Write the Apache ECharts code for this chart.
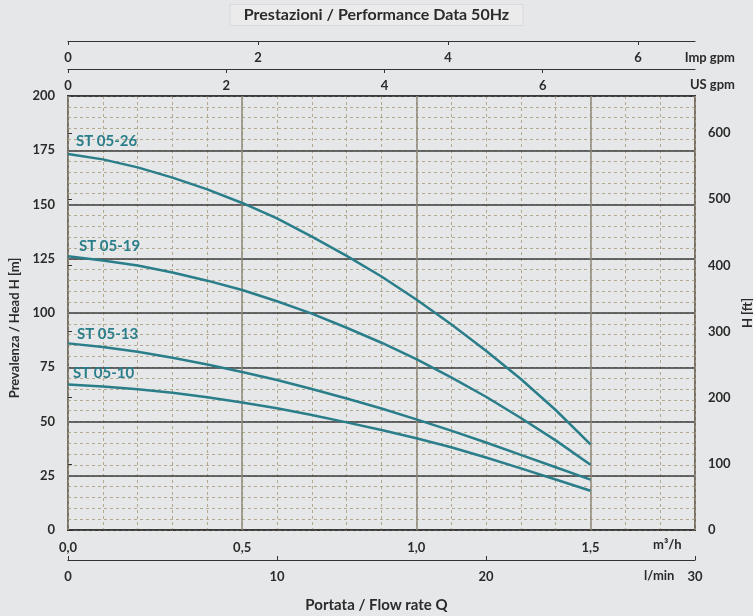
<!DOCTYPE html>
<html>
<head>
<meta charset="utf-8">
<script src="https://cdn.jsdelivr.net/npm/echarts@6/dist/echarts.min.js"></script>
<style>
  html, body { margin: 0; padding: 0; background: #e6e7e9; }
  #chart { width: 753px; height: 616px; }
</style>
</head>
<body>
<div id="chart"></div>
<script>
// Flow rate points (m³/h) and head (m) for each pump model
const flowM3h = [0, 0.1, 0.2, 0.3, 0.4, 0.5, 0.6, 0.7, 0.8, 0.9, 1.0, 1.1, 1.2, 1.3, 1.4, 1.5];
const st0526 = [173.3, 170.8, 167.1, 162.4, 157.0, 150.7, 143.6, 135.2, 126.3, 116.8, 106.2, 94.8, 82.6, 69.6, 55.3, 39.5];
const st0519 = [126.1, 124.2, 121.9, 118.7, 114.9, 110.6, 105.4, 99.7, 93.2, 86.3, 78.7, 70.3, 61.4, 51.6, 41.3, 30.1];
const st0513 = [86.0, 84.3, 82.1, 79.4, 76.3, 72.8, 69.1, 65.0, 60.6, 56.0, 51.0, 45.8, 40.3, 34.6, 28.9, 23.2];
const st0510 = [67.0, 66.1, 64.9, 63.3, 61.2, 58.8, 56.1, 53.0, 49.6, 46.1, 42.3, 38.1, 33.4, 28.4, 23.3, 18.1];
const modelNames = ['ST 05-26', 'ST 05-19', 'ST 05-13', 'ST 05-10'];

// Tick labels of every scale
const headTicks = [0, 25, 50, 75, 100, 125, 150, 175, 200];
const ftTicks = [0, 100, 200, 300, 400, 500, 600];
const m3hTicks = [0, 0.5, 1.0, 1.5];
const lminTicks = [0, 10, 20, 30];
const usGpmTicks = [0, 2, 4, 6];
const impGpmTicks = [0, 2, 4, 6];

// Scale ranges and unit conversions
const Q_MAX = 1.8;            // m³/h
const H_MAX = 200;            // m
const LMIN_PER_M3H = 1000 / 60;
const USGPM_PER_M3H = 4.402868;
const IMPGPM_PER_M3H = 3.666154;
const FT_PER_M = 3.28084;

const FONT = 'Lato, "Open Sans", sans-serif';
const TEAL = '#2a7e8a';
const TXT = '#2b2b2b';

const chart = echarts.init(document.getElementById('chart'), null, { renderer: 'canvas' });

const curves = [st0526, st0519, st0513, st0510];
const labelOffsets = [[3, -13], [6, -10], [4, -9], [0, -11]];

const series = curves.map((vals, i) => ({
  name: modelNames[i],
  type: 'line',
  xAxisIndex: 1,
  yAxisIndex: 1,
  data: flowM3h.map((q, k) => [q, vals[k]]),
  smooth: false,
  showSymbol: false,
  symbol: 'none',
  lineStyle: { color: TEAL, width: 2.5, join: 'round' },
  z: 5,
  markPoint: {
    symbol: 'circle',
    symbolSize: 0,
    silent: true,
    data: [{
      coord: [flowM3h[0], vals[0]],
      label: {
        show: true,
        position: 'right',
        distance: 5,
        offset: labelOffsets[i],
        formatter: modelNames[i],
        color: TEAL,
        fontFamily: FONT,
        fontWeight: 'bold',
        fontSize: 15
      }
    }]
  }
}));

const boldLabel = (extra) => Object.assign({
  color: TXT, fontFamily: FONT, fontWeight: 'bold', fontSize: 13
}, extra || {});

const option = {
  backgroundColor: '#e6e7e9',
  animation: false,
  title: {
    text: 'Prestazioni / Performance Data 50Hz',
    left: 'center',
    top: 4,
    padding: [3, 14, 3, 14],
    backgroundColor: '#ebebec',
    borderColor: '#d9d9db',
    borderWidth: 1,
    textStyle: { color: TXT, fontFamily: FONT, fontWeight: 'bold', fontSize: 16 }
  },
  grid: {
    left: 68, right: 58, top: 96, bottom: 86,
    outerBoundsMode: 'none',
    containLabel: false,
    show: true,
    backgroundColor: 'transparent',
    borderColor: '#333333',
    borderWidth: 2
  },
  xAxis: [
    { // minor vertical grid, every 0.1 m³/h
      type: 'value', min: 0, max: Q_MAX, interval: 0.1, position: 'bottom', z: 0,
      axisLine: { show: false }, axisTick: { show: false }, axisLabel: { show: false },
      splitLine: { show: true, lineStyle: { color: '#b3a98f', type: [3, 3], width: 1 } }
    },
    { // m³/h scale
      type: 'value', min: 0, max: Q_MAX, interval: 0.5, position: 'bottom', z: 1,
      axisLine: { show: false }, axisTick: { show: false },
      axisLabel: boldLabel({ margin: 11, customValues: m3hTicks,
        formatter: v => v.toFixed(1).replace('.', ',') }),
      splitLine: { show: true, lineStyle: { color: '#8f8977', width: 1.5 } }
    },
    { // l/min scale
      type: 'value', min: 0, max: Q_MAX * LMIN_PER_M3H, position: 'bottom', offset: 30, z: 1,
      axisLine: { show: true, onZero: false, lineStyle: { color: '#333', width: 1.2 } },
      axisTick: { show: true, inside: true, length: 4, customValues: lminTicks, lineStyle: { color: '#333' } },
      axisLabel: boldLabel({ margin: 10, customValues: lminTicks }),
      splitLine: { show: false }
    },
    { // US gpm scale
      type: 'value', min: 0, max: Q_MAX * USGPM_PER_M3H, position: 'top', offset: 27, z: 1,
      axisLine: { show: true, onZero: false, lineStyle: { color: '#333', width: 1.2 } },
      axisTick: { show: true, inside: true, length: 4, customValues: usGpmTicks, lineStyle: { color: '#333' } },
      axisLabel: boldLabel({ inside: true, margin: 10, customValues: usGpmTicks }),
      splitLine: { show: false }
    },
    { // Imp gpm scale
      type: 'value', min: 0, max: Q_MAX * IMPGPM_PER_M3H, position: 'top', offset: 55, z: 1,
      axisLine: { show: true, onZero: false, lineStyle: { color: '#333', width: 1.2 } },
      axisTick: { show: true, inside: true, length: 4, customValues: impGpmTicks, lineStyle: { color: '#333' } },
      axisLabel: boldLabel({ inside: true, margin: 10, customValues: impGpmTicks }),
      splitLine: { show: false }
    }
  ],
  yAxis: [
    { // minor horizontal grid, every 5 m
      type: 'value', min: 0, max: H_MAX, interval: 5, position: 'left', z: 0,
      axisLine: { show: false }, axisTick: { show: false }, axisLabel: { show: false },
      splitLine: { show: true, lineStyle: { color: '#b3a98f', type: [3, 3], width: 1 } }
    },
    { // head in metres
      type: 'value', min: 0, max: H_MAX, interval: 25, position: 'left', z: 1,
      name: 'Prevalenza / Head H [m]', nameLocation: 'middle', nameGap: 40,
      nameTextStyle: { color: TXT, fontFamily: FONT, fontWeight: 'bold', fontSize: 13, padding: [0, 30, 0, 0] },
      axisLine: { show: false }, axisTick: { show: false },
      axisLabel: boldLabel({ margin: 13, customValues: headTicks }),
      splitLine: { show: true, lineStyle: { color: '#3d3d3d', width: 1.5 } }
    },
    { // head in feet
      type: 'value', min: 0, max: H_MAX * FT_PER_M, position: 'right', z: 1,
      name: 'H [ft]', nameLocation: 'middle', nameGap: 37,
      nameTextStyle: { color: TXT, fontFamily: FONT, fontWeight: 'bold', fontSize: 13 },
      axisLine: { show: false },
      axisTick: { show: true, length: 4, customValues: ftTicks, lineStyle: { color: '#333' } },
      axisLabel: boldLabel({ margin: 13, customValues: ftTicks }),
      splitLine: { show: false }
    }
  ],
  graphic: [
    { type: 'text', right: 18, top: 51, style: { text: 'Imp gpm', fill: TXT, font: 'bold 13px ' + FONT } },
    { type: 'text', right: 18, top: 78, style: { text: 'US gpm', fill: TXT, font: 'bold 13px ' + FONT } },
    { type: 'text', left: 653, top: 538, style: { text: 'm³/h', fill: TXT, font: 'bold 13px ' + FONT } },
    { type: 'text', left: 644, top: 569, style: { text: 'l/min', fill: TXT, font: 'bold 13px ' + FONT } },
    { type: 'text', left: 'center', top: 598, style: { text: 'Portata / Flow rate Q', fill: TXT, font: 'bold 15px ' + FONT } }
  ],
  series: series
};

chart.setOption(option);
</script>
</body>
</html>
